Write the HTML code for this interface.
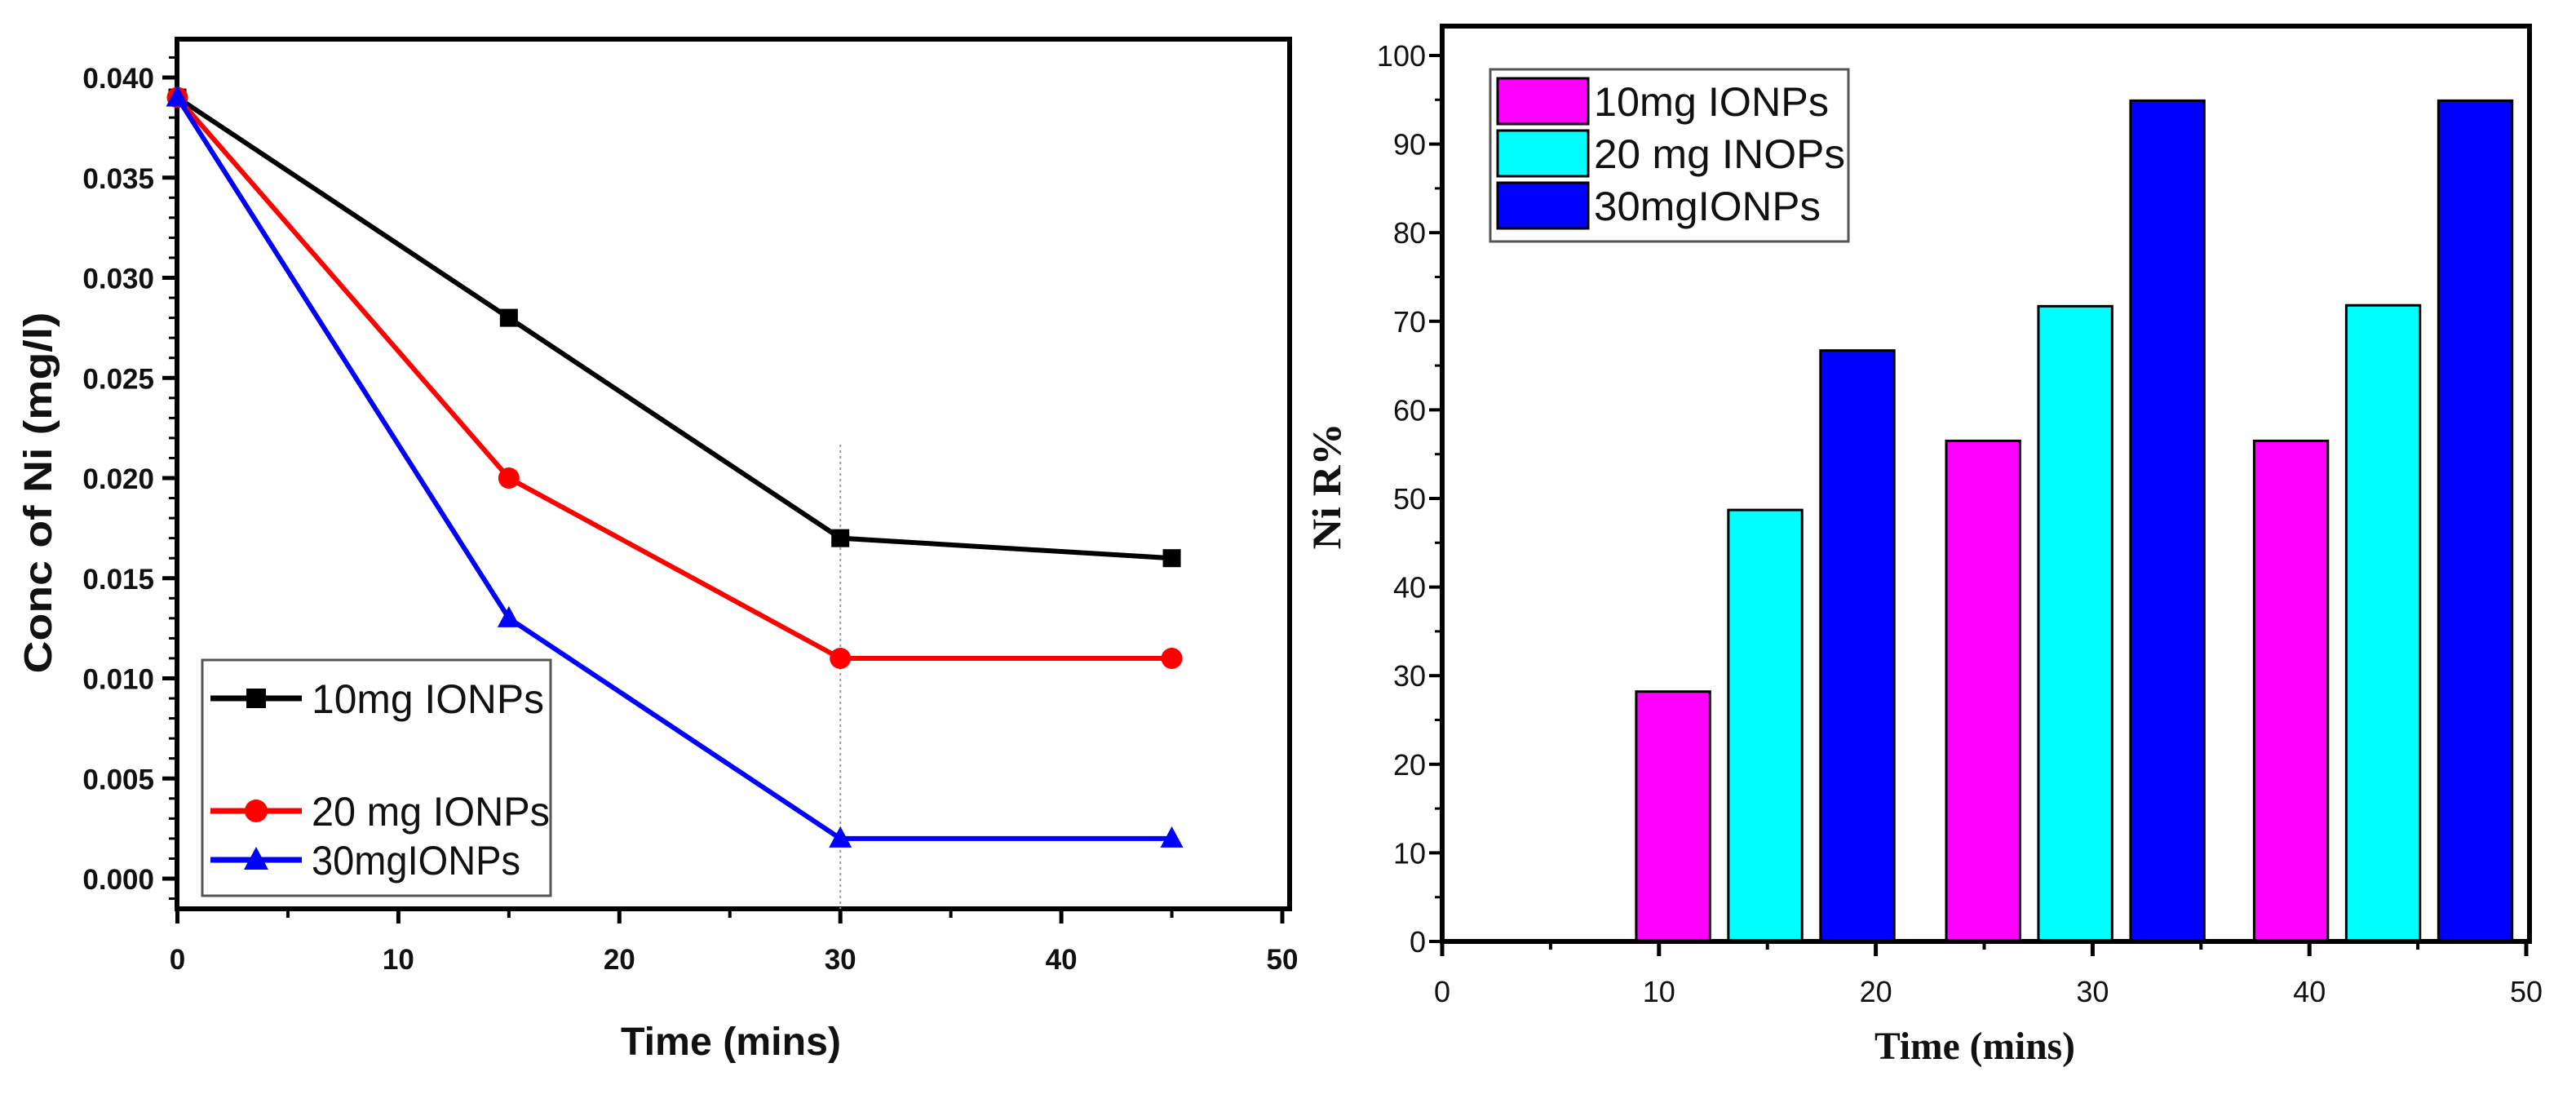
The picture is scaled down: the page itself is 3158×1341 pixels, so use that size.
<!DOCTYPE html>
<html><head><meta charset="utf-8"><style>
html,body{margin:0;padding:0;background:#fff;}
svg{display:block;}
</style></head><body>
<svg id="s" width="3158" height="1341" viewBox="0 0 3158 1341" xmlns="http://www.w3.org/2000/svg">
<rect width="3158" height="1341" fill="#fff"/>
<g id="left"></g>
<g id="right"></g>
</svg>
<script>
// ---- left chart data ----
const lineTimes = [0, 15, 30, 45];
const conc10 = [0.039, 0.028, 0.017, 0.016];
const conc20 = [0.039, 0.020, 0.011, 0.011];
const conc30 = [0.039, 0.013, 0.002, 0.002];
const leftXTicks = [0, 10, 20, 30, 40, 50];
const leftYTicks = [0, 0.005, 0.010, 0.015, 0.020, 0.025, 0.030, 0.035, 0.040];
const lineSeriesNames = ["10mg IONPs", "20 mg IONPs", "30mgIONPs"];
// ---- right chart data ----
const barCategories = ["15", "30", "45"];
const barCenters = [14.9, 29.2, 43.4];
const bar10 = [28.2, 56.5, 56.5];
const bar20 = [48.7, 71.7, 71.8];
const bar30 = [66.7, 94.9, 94.9];
const rightXTicks = [0, 10, 20, 30, 40, 50];
const rightYTicks = [0, 10, 20, 30, 40, 50, 60, 70, 80, 90, 100];
const barSeriesNames = ["10mg IONPs", "20 mg INOPs", "30mgIONPs"];

const NS = "http://www.w3.org/2000/svg";
function mk(parent, tag, attrs, text){
  const e = document.createElementNS(NS, tag);
  for (const k in attrs) e.setAttribute(k, attrs[k]);
  if (text !== undefined) e.textContent = text;
  parent.appendChild(e);
  return e;
}
const sans = '"Liberation Sans", Arial, sans-serif';
const serif = '"Liberation Serif", "Times New Roman", serif';

// ================= LEFT =================
(function(){
  const g = document.getElementById('left');
  const L = 217, R = 1581, T = 48, B = 1114;
  const xs = v => 217.5 + (v - 0) / 50 * (1572 - 217.5);
  const ys = v => 1077 - v / 0.040 * (1077 - 95);
  let e;
  e = mk(g, 'rect', {x:L, y:T, width:R-L, height:B-T, fill:'none', stroke:'#000', 'stroke-width':6});
  
  
  e = mk(g, 'line', {x1:xs(30), x2:xs(30), y1:545, y2:1118, stroke:'#999', 'stroke-width':2, 'stroke-dasharray':'3,4'});
  
  
  leftXTicks.forEach(v => {
    const x = xs(v);
    mk(g, 'line', {x1:x, x2:x, y1:B, y2:B+18, stroke:'#000', 'stroke-width':5});
    e = mk(g, 'text', {x:x, y:B+74, 'text-anchor':'middle', 'font-family':sans, 'font-weight':'bold', 'font-size':35, fill:'#111'}, v);
    
    
    if (v < 50) mk(g, 'line', {x1:xs(v+5), x2:xs(v+5), y1:B, y2:B+11, stroke:'#000', 'stroke-width':4});
  });
  leftYTicks.forEach(v => {
    const y = ys(v);
    mk(g, 'line', {x1:L-18, x2:L, y1:y, y2:y, stroke:'#000', 'stroke-width':5});
    e = mk(g, 'text', {x:L-28, y:y+13, 'text-anchor':'end', 'font-family':sans, 'font-weight':'bold', 'font-size':35, fill:'#111'}, v.toFixed(3));
    
    
  });
  for (let v = -0.001; v < 0.0415; v += 0.001) {
    if (Math.abs(Math.round(v*1000) % 5) === 0) continue;
    const y = ys(v);
    mk(g, 'line', {x1:L-10, x2:L, y1:y, y2:y, stroke:'#000', 'stroke-width':3});
  }
  e = mk(g, 'text', {x:896, y:1293, 'text-anchor':'middle', 'font-family':sans, 'font-weight':'bold', 'font-size':48, fill:'#111', textLength:270, lengthAdjust:'spacingAndGlyphs'}, 'Time (mins)');
  
  
  e = mk(g, 'text', {x:0, y:0, 'text-anchor':'middle', 'font-family':sans, 'font-weight':'bold', 'font-size':48, fill:'#111', textLength:443, lengthAdjust:'spacingAndGlyphs', transform:'translate(63,604) rotate(-90)'}, 'Conc of Ni (mg/l)');
  
  

  const series = [conc10, conc20, conc30];
  const colors = ['#000', '#f00', '#00f'];
  function marker(parent, i, x, y, s){
    if (i === 0) return mk(parent, 'rect', {x:x-s, y:y-s, width:2*s, height:2*s, fill:colors[i]});
    if (i === 1) return mk(parent, 'circle', {cx:x, cy:y, r:s+2, fill:colors[i]});
    return mk(parent, 'polygon', {points:`${x},${y-s-4} ${x-s-3},${y+s} ${x+s+3},${y+s}`, fill:colors[i]});
  }
  series.forEach((vals, i) => {
    const sg = mk(g, 'g', {});
    
    
    const pts = vals.map((v, j) => xs(lineTimes[j]) + ',' + ys(v)).join(' ');
    mk(sg, 'polyline', {points:pts, fill:'none', stroke:colors[i], 'stroke-width':6});
    vals.forEach((v, j) => {
      const m = marker(sg, i, xs(lineTimes[j]), ys(v), 11);
      
      
    });
  });
  const lg = mk(g, 'g', {});
  
  
  mk(lg, 'rect', {x:248, y:809, width:427, height:289, fill:'#fff', stroke:'#555', 'stroke-width':3});
  const ly = [856, 994, 1054];
  const lw = [285, 292, 256];
  lineSeriesNames.forEach((n, i) => {
    const eg = mk(lg, 'g', {});
    
    
    mk(eg, 'line', {x1:258, x2:370, y1:ly[i], y2:ly[i], stroke:colors[i], 'stroke-width':7});
    marker(eg, i, 314, ly[i], 12);
    mk(eg, 'text', {x:382, y:ly[i]+18, 'font-family':sans, 'font-size':50, fill:'#111', textLength:lw[i], lengthAdjust:'spacingAndGlyphs'}, n);
  });
})();

// ================= RIGHT =================
(function(){
  const g = document.getElementById('right');
  const L = 1768, R = 3101, T = 32, B = 1154;
  const xs = v => 1768 + v / 50 * (3097 - 1768);
  const ys = v => 1154 - v / 100 * (1154 - 68);
  let e;
  const barW = 3.4, step = 4.25;
  const series = [bar10, bar20, bar30];
  const colors = ['#ff00ff', '#00ffff', '#0000ff'];
  series.forEach((vals, i) => {
    const sg = mk(g, 'g', {});
    
    
    vals.forEach((v, j) => {
      const c = barCenters[j] + (i - 1) * step;
      const x1 = xs(c - barW/2), x2 = xs(c + barW/2);
      const r = mk(sg, 'rect', {x:x1, y:ys(v), width:x2-x1, height:ys(0)-ys(v), fill:colors[i], stroke:'#000', 'stroke-width':3});
      
      
    });
  });
  e = mk(g, 'rect', {x:L, y:T, width:R-L, height:B-T, fill:'none', stroke:'#000', 'stroke-width':6});
  
  
  rightXTicks.forEach(v => {
    const x = xs(v);
    mk(g, 'line', {x1:x, x2:x, y1:B, y2:B+18, stroke:'#000', 'stroke-width':5});
    e = mk(g, 'text', {x:x, y:B+74, 'text-anchor':'middle', 'font-family':sans, 'font-size':36, fill:'#111'}, v);
    
    
    if (v < 50) mk(g, 'line', {x1:xs(v+5), x2:xs(v+5), y1:B, y2:B+10, stroke:'#000', 'stroke-width':4});
  });
  rightYTicks.forEach(v => {
    const y = ys(v);
    mk(g, 'line', {x1:L-16, x2:L, y1:y, y2:y, stroke:'#000', 'stroke-width':4});
    e = mk(g, 'text', {x:L-20, y:y+13, 'text-anchor':'end', 'font-family':sans, 'font-size':36, fill:'#111'}, v);
    
    
    if (v < 100) mk(g, 'line', {x1:L-9, x2:L, y1:ys(v+5), y2:ys(v+5), stroke:'#000', 'stroke-width':3});
  });
  e = mk(g, 'text', {x:2421, y:1298, 'text-anchor':'middle', 'font-family':serif, 'font-weight':'bold', 'font-size':48, fill:'#111', textLength:246, lengthAdjust:'spacingAndGlyphs'}, 'Time (mins)');
  
  
  e = mk(g, 'text', {x:0, y:0, 'text-anchor':'middle', 'font-family':serif, 'font-weight':'bold', 'font-size':50, fill:'#111', textLength:155, lengthAdjust:'spacingAndGlyphs', transform:'translate(1643,596) rotate(-90)'}, 'Ni R%');
  
  
  const lg = mk(g, 'g', {});
  
  
  mk(lg, 'rect', {x:1827, y:85, width:439, height:211, fill:'#fff', stroke:'#555', 'stroke-width':3});
  const rw = [288, 308, 278];
  barSeriesNames.forEach((n, i) => {
    const y = 96 + i * 64;
    const eg = mk(lg, 'g', {});
    
    
    mk(eg, 'rect', {x:1836, y:y, width:111, height:56, fill:colors[i], stroke:'#000', 'stroke-width':3});
    mk(eg, 'text', {x:1954, y:y+46, 'font-family':sans, 'font-size':50, fill:'#111', textLength:rw[i], lengthAdjust:'spacingAndGlyphs'}, n);
  });
})();
</script>
</body></html>
